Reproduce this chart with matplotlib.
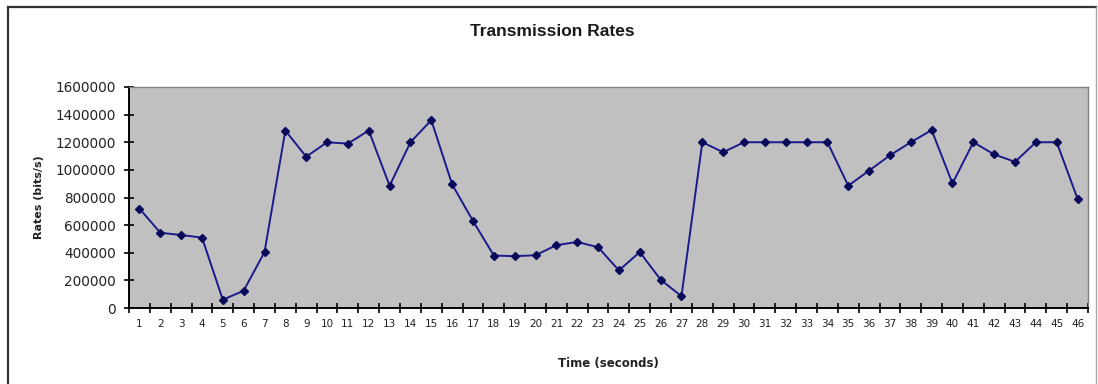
import matplotlib.pyplot as plt
from matplotlib.lines import Line2D
from matplotlib.ticker import FixedLocator, NullFormatter

# Transmission rate per second (bits/s)
seconds = list(range(1, 47))
rates = [
    720000, 545000, 528000, 510000, 60000, 125000, 405000, 1285000,
    1095000, 1200000, 1190000, 1285000, 885000, 1200000, 1360000, 895000,
    630000, 380000, 375000, 382000, 455000, 478000, 440000, 272000,
    405000, 205000, 85000, 1200000, 1128000, 1200000, 1200000, 1200000,
    1200000, 1200000, 885000, 995000, 1105000, 1200000, 1288000, 902000,
    1200000, 1112000, 1058000, 1200000, 1200000, 790000,
]
y_ticks = list(range(0, 1600001, 200000))

fig = plt.figure(figsize=(10.98, 3.84), dpi=100)

# outer chart frame
fig.add_artist(Line2D([8 / 1098, 8 / 1098], [0, 1 - 7 / 384],
                      transform=fig.transFigure, color='#333333', lw=1.6))
fig.add_artist(Line2D([8 / 1098, 1096 / 1098], [1 - 7 / 384, 1 - 7 / 384],
                      transform=fig.transFigure, color='#333333', lw=1.6))
fig.add_artist(Line2D([1096 / 1098, 1096 / 1098], [0, 1 - 7 / 384],
                      transform=fig.transFigure, color='#aaaaaa', lw=1.0))

ax = fig.add_axes([129 / 1098, 76 / 384, 959 / 1098, 221 / 384])
ax.set_facecolor('#c0c0c0')

ax.plot(seconds, rates, color='#1a1a8c', lw=1.4, marker='D', markersize=4.5,
        markerfacecolor='#0a0a5a', markeredgecolor='#0a0a5a')

ax.set_xlim(0.5, 46.5)
ax.set_ylim(0, 1600000)

# category axis: ticks between categories, labels centred on them
ax.xaxis.set_major_locator(FixedLocator([i + 0.5 for i in range(0, 47)]))
ax.xaxis.set_major_formatter(NullFormatter())
ax.xaxis.set_minor_locator(FixedLocator(seconds))
ax.set_xticklabels([str(s) for s in seconds], minor=True)
ax.tick_params(axis='x', which='major', direction='inout', length=7, width=1.2, color='black')
ax.tick_params(axis='x', which='minor', length=0, labelsize=7.5, pad=8, labelcolor='#222222')

ax.set_yticks(y_ticks)
ax.set_yticklabels([str(v) for v in y_ticks])
ax.tick_params(axis='y', direction='inout', length=7, width=1.2, labelsize=9.8,
               pad=6, labelcolor='#222222')

for side in ('top', 'right'):
    ax.spines[side].set_color('#808080')
    ax.spines[side].set_linewidth(1.0)
for side in ('left', 'bottom'):
    ax.spines[side].set_color('black')
    ax.spines[side].set_linewidth(1.4)

ax.set_xlabel('Time (seconds)', fontsize=8.5, fontweight='bold', color='#222222', labelpad=20)
ax.set_ylabel('Rates (bits/s)', fontsize=8, fontweight='bold', color='#222222', labelpad=8)

fig.text(0.503, 1 - 31 / 384, 'Transmission Rates', ha='center', va='center',
         fontsize=12.5, fontweight='bold', family='Liberation Sans', color='#1a1a1a')

fig.savefig('out.png', dpi=100)
